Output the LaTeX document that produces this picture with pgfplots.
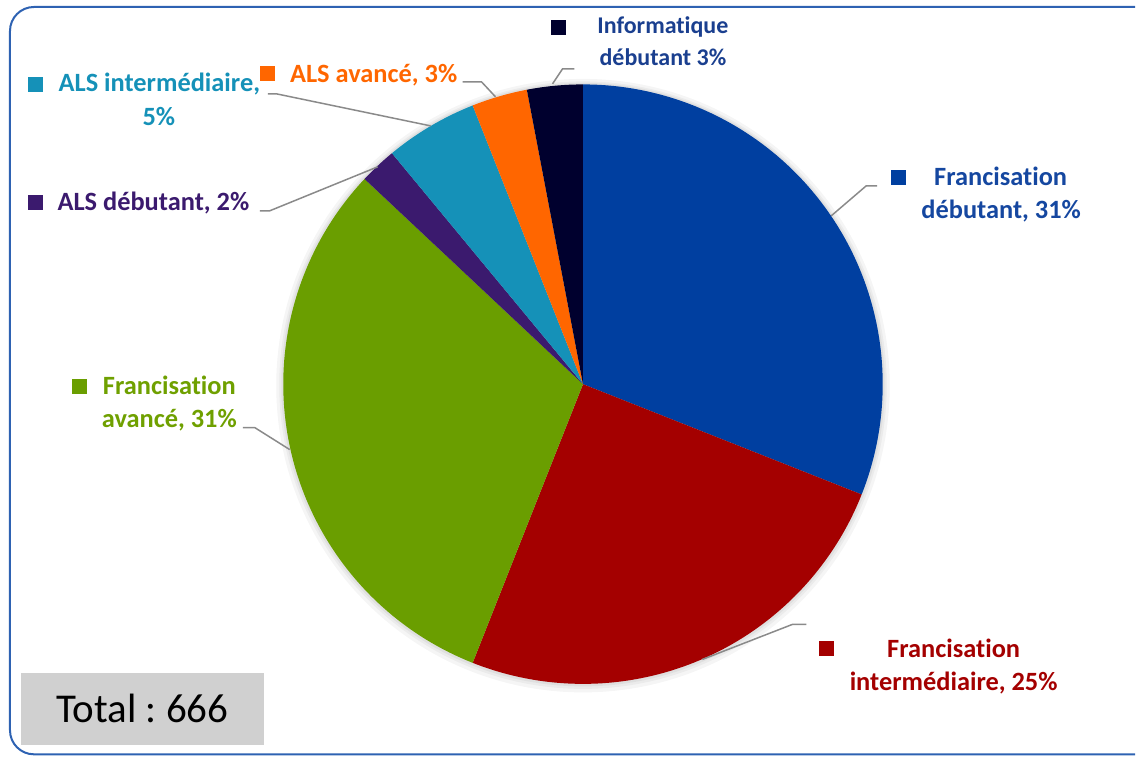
\documentclass[border=0pt]{standalone}
\usepackage{fontspec}
\setmainfont[Ligatures=NoCommon]{Carlito}
\usepackage{pgfplots}
\pgfplotsset{compat=1.18}
\usepackage{pgfplotstable}

% slice colours, in table order
\definecolor{c0}{HTML}{003FA0}
\definecolor{c1}{HTML}{A40000}
\definecolor{c2}{HTML}{6A9E00}
\definecolor{c3}{HTML}{3B1A6E}
\definecolor{c4}{HTML}{1591B8}
\definecolor{c5}{HTML}{FF6600}
\definecolor{c6}{HTML}{00002E}
% label colours
\definecolor{t0}{HTML}{1547A0}
\definecolor{t6}{HTML}{1A3F8F}
\definecolor{t2}{HTML}{6FA000}
\definecolor{frame}{HTML}{2E62B2}
\definecolor{leader}{HTML}{8A8A8A}
\definecolor{totalbg}{HTML}{D0D0D0}

\pgfplotstableread{
key value
FD  31
FI  25
FA  31
AD  2
AI  5
AA  3
ID  3
}\piedata

% cumulative angles, clockwise from 12 o'clock
\def\cum{0}
\pgfplotsforeachungrouped \i in {0,...,6}{%
  \pgfplotstablegetelem{\i}{value}\of\piedata
  \pgfmathsetmacro\startang{90-3.6*\cum}%
  \pgfmathsetmacro\cum{\cum+\pgfplotsretval}%
  \pgfmathsetmacro\endang{90-3.6*\cum}%
  \expandafter\xdef\csname sa\i\endcsname{\startang}%
  \expandafter\xdef\csname ea\i\endcsname{\endang}%
}

\newcommand\lab{\fontsize{13.2}{16}\selectfont\bfseries}
\frenchspacing

\begin{document}
\begin{tikzpicture}
\begin{axis}[
  hide axis,
  scale only axis,
  disabledatascaling,
  x=0.5pt, y=0.5pt,
  xmin=0, xmax=1136, ymin=0, ymax=759,
  clip=false,
]
\path (axis cs:0,0) rectangle (axis cs:1136,759);

% frame
\draw[frame, line width=1pt, rounded corners=12pt]
  (axis cs:1136,752) -- (axis cs:10,752) -- (axis cs:10,4) -- (axis cs:1136,4);

% soft shadow
\fill[black, opacity=0.04] (axis cs:583.5,373) circle[radius=307];
\fill[black, opacity=0.04] (axis cs:583.5,373.5) circle[radius=304];
\fill[black, opacity=0.05] (axis cs:583.5,374) circle[radius=302];

% slices
\pgfplotsinvokeforeach{0,...,6}{
  \fill[c#1] (axis cs:583.5,374.5) -- +(\csname sa#1\endcsname:300)
    arc[start angle=\csname sa#1\endcsname, end angle=\csname ea#1\endcsname, radius=300] -- cycle;
}

% leader lines
\draw[leader, line width=0.75pt] (axis cs:553,675) -- (axis cs:563,690) -- (axis cs:575,690);
\draw[leader, line width=0.75pt] (axis cs:496,662) -- (axis cs:482,677) -- (axis cs:463,677);
\draw[leader, line width=0.75pt] (axis cs:431,633) -- (axis cs:277,665) -- (axis cs:268,665);
\draw[leader, line width=0.75pt] (axis cs:378,592) -- (axis cs:270,548) -- (axis cs:260,548);
\draw[leader, line width=0.75pt] (axis cs:290,309) -- (axis cs:255,331) -- (axis cs:243,331);
\draw[leader, line width=0.75pt] (axis cs:832,543) -- (axis cs:867,573) -- (axis cs:878,573);
\draw[leader, line width=0.75pt] (axis cs:703,99) -- (axis cs:793,134) -- (axis cs:807,134);

% legend squares
\tikzset{sq/.style={inner sep=0pt, minimum size=7.5pt, fill=#1}}
\node[sq=c6] at (axis cs:558.5,731.5) {};
\node[sq=c5] at (axis cs:268,685.5) {};
\node[sq=c4] at (axis cs:35.5,674.5) {};
\node[sq=c3] at (axis cs:35.5,556) {};
\node[sq=c2] at (axis cs:80,372.5) {};
\node[sq=c0] at (axis cs:899,581.5) {};
\node[sq=c1] at (axis cs:827,110) {};

% labels
\tikzset{lb/.style={anchor=base, text=#1, font=\lab, inner sep=0pt}}
\node[lb=t6, font=\fontsize{12}{14}\selectfont\bfseries] at (axis cs:663.5,725) {Informatique};
\node[lb=t6, font=\fontsize{12}{14}\selectfont\bfseries] at (axis cs:663.5,693) {débutant 3\%};
\node[lb=c5] at (axis cs:374,676) {ALS avancé, 3\%};
\node[lb=c4] at (axis cs:159.5,667) {ALS intermédiaire,};
\node[lb=c4] at (axis cs:159,633) {5\%};
\node[lb=c3] at (axis cs:153.5,548) {ALS débutant, 2\%};
\node[lb=t2] at (axis cs:169.5,364) {Francisation};
\node[lb=t2] at (axis cs:169.5,331) {avancé, 31\%};
\node[lb=t0] at (axis cs:1001.5,573) {Francisation};
\node[lb=t0] at (axis cs:1002,540) {débutant, 31\%};
\node[lb=c1] at (axis cs:954.5,101) {Francisation};
\node[lb=c1] at (axis cs:954.5,68) {intermédiaire, 25\%};

% total box
\fill[totalbg] (axis cs:21,13) rectangle (axis cs:264,85);
\node[anchor=base, inner sep=0pt, font=\fontsize{20.5}{24}\selectfont]
  at (axis cs:142.5,35.7) {Total : 666};
\end{axis}
\end{tikzpicture}
\end{document}
